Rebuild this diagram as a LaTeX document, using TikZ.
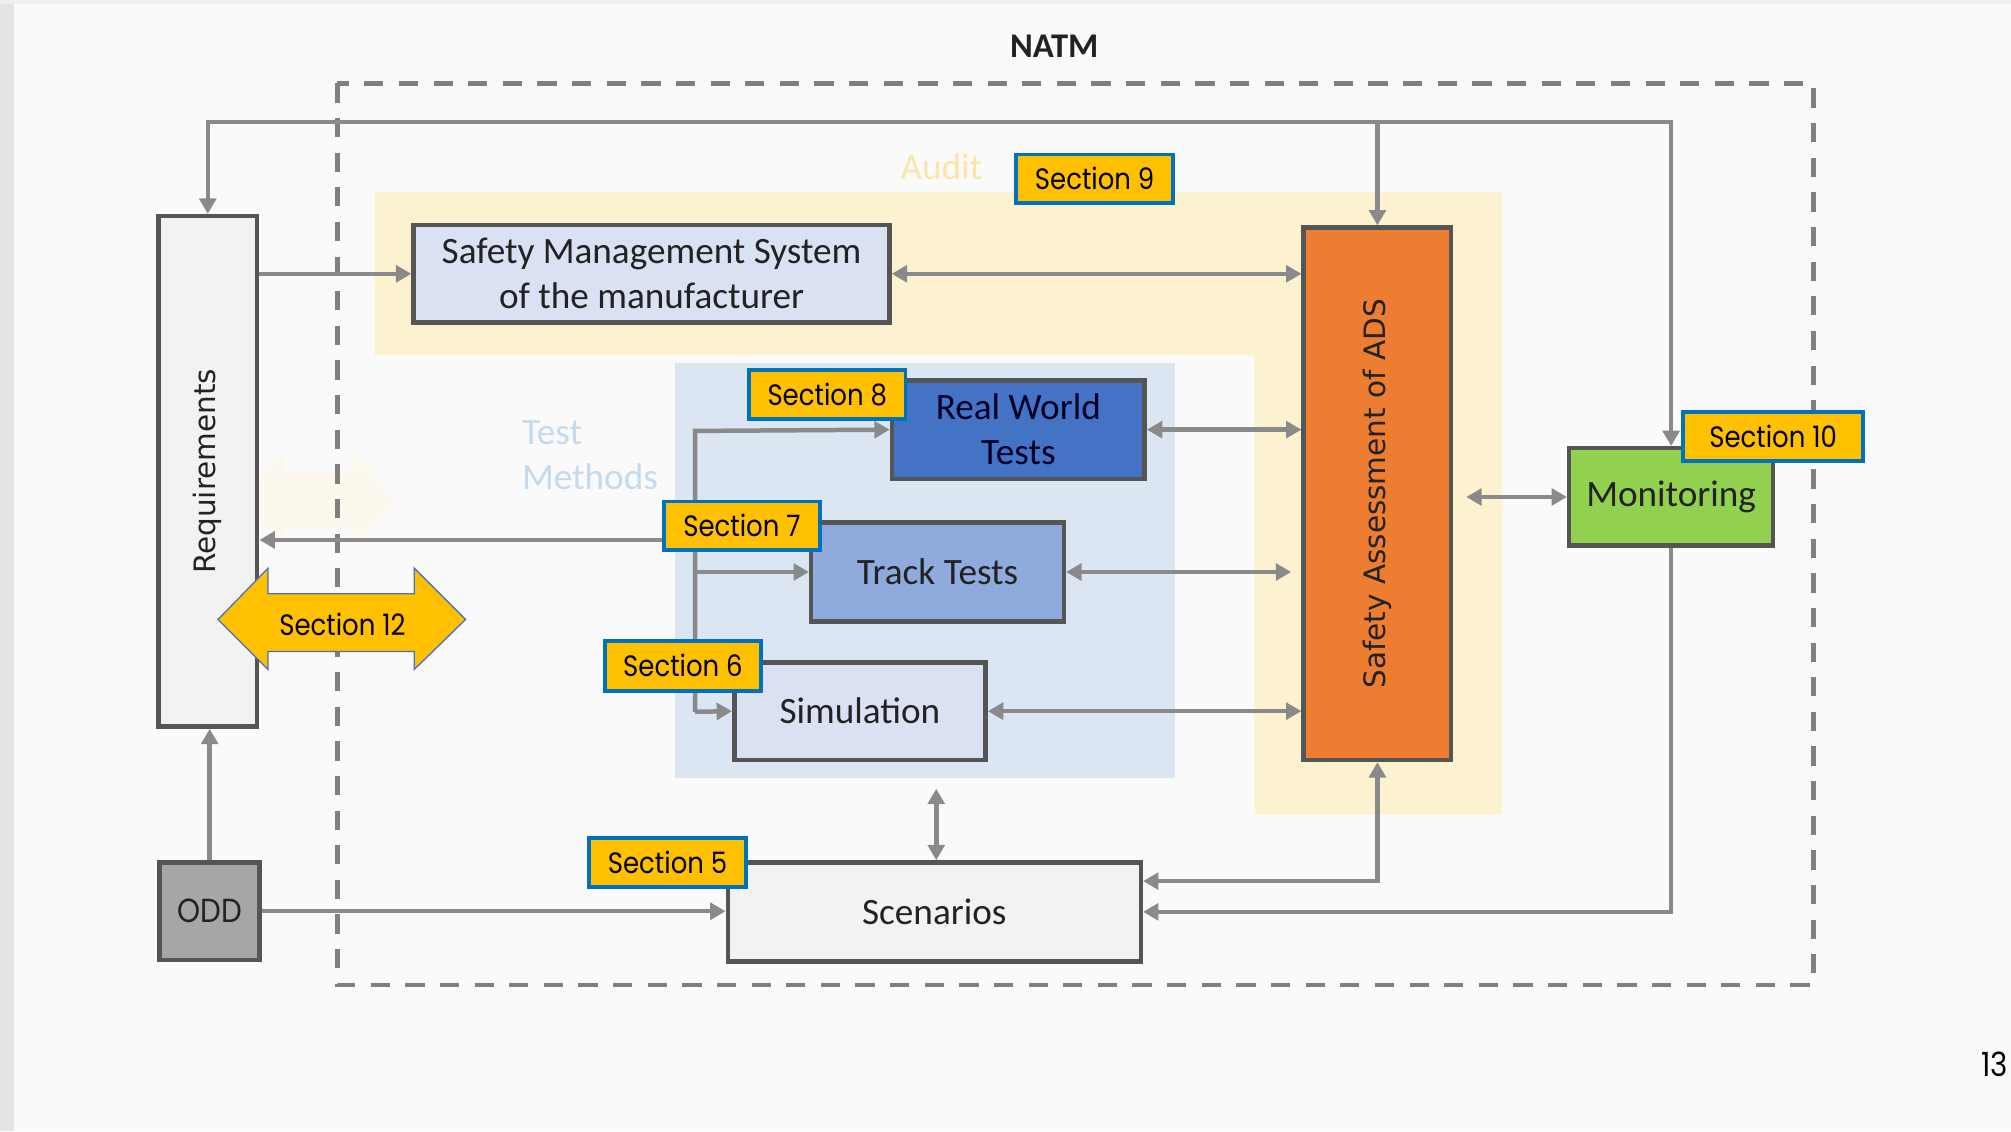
\documentclass[tikz,border=0pt]{standalone}
\usepackage{fontspec}
\setmainfont{Carlito}
\newfontfamily\secfont[FakeStretch=0.88]{Poppins}
\newfontfamily\vfont{DejaVu Sans}
\usetikzlibrary{arrows.meta,calc}
\definecolor{bgc}{HTML}{FAFAFA}
\definecolor{stripc}{HTML}{E4E4E4}
\definecolor{topc}{HTML}{EFEFEF}
\definecolor{yreg}{HTML}{FDF2D0}
\definecolor{breg}{HTML}{DCE6F2}
\definecolor{lav}{HTML}{DAE1F3}
\definecolor{rwtc}{HTML}{4472C4}
\definecolor{ttc}{HTML}{8FAADC}
\definecolor{lgray}{HTML}{F2F2F2}
\definecolor{oddc}{HTML}{A6A6A6}
\definecolor{sac}{HTML}{ED7D31}
\definecolor{monc}{HTML}{92D050}
\definecolor{secy}{HTML}{FFC000}
\definecolor{secb}{HTML}{0070C0}
\definecolor{conc}{HTML}{8A8A8A}
\definecolor{dashc}{HTML}{7F7F7F}
\definecolor{bordc}{HTML}{555555}
\definecolor{txtc}{HTML}{222222}
\definecolor{auditc}{HTML}{FAE6A8}
\definecolor{testc}{HTML}{C4DAEF}
\definecolor{ghostc}{HTML}{FDF8EE}
\tikzset{
  box/.style={rectangle, draw=bordc, line width=3.5pt, inner sep=0pt, text=txtc,
    font=\fontsize{29}{35}\selectfont, align=center},
  sec/.style={rectangle, fill=secy, draw=secb, line width=3pt, inner sep=0pt,
    minimum width=122pt, minimum height=38pt, font=\secfont\fontsize{23}{26}\selectfont},
  conn/.style={draw=conc, line width=3.5pt},
  >={Triangle[length=12pt,width=13pt]}
}
\begin{document}
\begin{tikzpicture}[x=1pt,y=-1pt]
\useasboundingbox (0,0) rectangle (1568,882);
\clip (0,0) rectangle (1568,882);
% background
\fill[bgc] (0,0) rectangle (1568,882);
\fill[stripc] (0,0) rectangle (11,882);
\fill[topc] (0,0) rectangle (1568,3);
% regions
\fill[yreg] (292,150) -- (1171,150) -- (1171,635) -- (978,635) -- (978,277) -- (292,277) -- cycle;
\fill[breg] (526,283) rectangle (916,607);
\fill[ghostc] (187,390) -- (222,352) -- (222,368) -- (275,368) -- (275,352) -- (308,390) -- (275,428) -- (275,412) -- (222,412) -- (222,428) -- cycle;
\node[text=auditc, font=\fontsize{29}{35}\selectfont] (audit) at (734,130) {Audit};
\node[text=testc, font=\fontsize{29}{35}\selectfont, align=left, inner sep=0pt] (testm) at (460,355) {Test\\Methods};
% title
\node[font=\bfseries\fontsize{27}{32}\selectfont, text=txtc] (natm) at (822,36) {NATM};
% dashed frame
\draw[dashc, line width=3.5pt, dash pattern=on 15pt off 12pt] (263,65) rectangle (1414,768);
% boxes
\node[box, fill=lgray, minimum width=77pt, minimum height=398pt] (req) at (162,367.5) {\rotatebox{90}{\vfont\fontsize{23}{28}\selectfont Requirements}};
\node[box, fill=oddc, minimum width=78pt, minimum height=76pt, font=\secfont\fontsize{26}{30}\selectfont] (odd) at (163.5,710.5) {ODD};
\node[box, fill=lav, minimum width=371pt, minimum height=76pt] (sms) at (508,213.5) {Safety Management System\\of the manufacturer};
\node[box, fill=sac, minimum width=115pt, minimum height=415pt] (sa) at (1074,385) {\rotatebox{90}{\vfont\fontsize{23}{28}\selectfont Safety Assessment of ADS}};
\node[box, fill=rwtc, text={black!85!blue}, minimum width=197pt, minimum height=77pt] (rwt) at (794,335) {Real World\\Tests};
\node[box, fill=ttc, minimum width=197pt, minimum height=77pt] (tt) at (731,446) {Track Tests};
\node[box, fill=lav, minimum width=196pt, minimum height=76pt] (sim) at (670.5,554.5) {Simulation};
\node[box, fill=lgray, minimum width=322pt, minimum height=77pt] (scen) at (728.5,711) {Scenarios};
\node[box, fill=monc, minimum width=159pt, minimum height=76pt] (mon) at (1303,387.5) {Monitoring};
% coordinates
\coordinate (tr) at (1303,95);
\coordinate (bus1) at (542,336);
\coordinate (bus3) at (542,555);
\coordinate (busr) at (542,421);
\coordinate (tmb) at (730,615);
% connectors
\draw[conn,<->] (req.north) |- (tr) -- (mon.north);
\draw[conn,->] (sa.north |- tr) -- (sa.north);
\draw[conn,->] (odd.north) -- (odd.north |- req.south);
\draw[conn,->] (req.east |- sms.west) -- (sms.west);
\draw[conn,<->] (sms.east) -- (sms.east -| sa.west);
\draw[conn,<->] (rwt.east) -- (rwt.east -| sa.west);
\draw[conn,<->, shorten >=8pt] (tt.east) -- (tt.east -| sa.west);
\draw[conn,<->] (sim.east) -- (sim.east -| sa.west);
\draw[conn,->] (bus3) -- (bus1) -- (rwt.west);
\draw[conn,->] (bus3) -- (sim.west);
\draw[conn,->] (bus1 |- tt.west) -- (tt.west);
\draw[conn,->] (busr) -- (busr -| req.east);
\draw[conn,<->] (tmb) -- (tmb |- scen.north);
\draw[conn,<->] (sa.south) |- ([yshift=24pt]scen.east);
\draw[conn,->] (mon.south) |- (scen.east);
\draw[conn,<->] ([xshift=10pt]sa.east |- mon.west) -- (mon.west);
\draw[conn,->] (odd.east) -- (odd.east -| scen.west);
% section labels
\node[sec] (s9) at (853.5,139.5) {Section 9};
\node[sec] (s8) at (645,307.5) {Section 8};
\node[sec, minimum width=140pt] (s10) at (1382.5,340.5) {Section 10};
\node[sec] (s7) at (578.5,410) {Section 7};
\node[sec, minimum height=39pt] (s6) at (532.5,519) {Section 6};
\node[sec] (s5) at (520.5,672.5) {Section 5};
% section 12 double arrow
\filldraw[fill=secy, draw=rwtc, line width=1pt] (170,483) -- (209,443) -- (209,463) -- (323,463) -- (323,443) -- (363,483) -- (323,522) -- (323,508) -- (209,508) -- (209,522) -- cycle;
\node[font=\secfont\fontsize{23}{26}\selectfont] (s12) at (267,487) {Section 12};
% page number
\node[anchor=east, inner sep=0pt, font=\secfont\fontsize{26}{30}\selectfont] (pg) at (1566,830) {13};
\end{tikzpicture}
\end{document}
